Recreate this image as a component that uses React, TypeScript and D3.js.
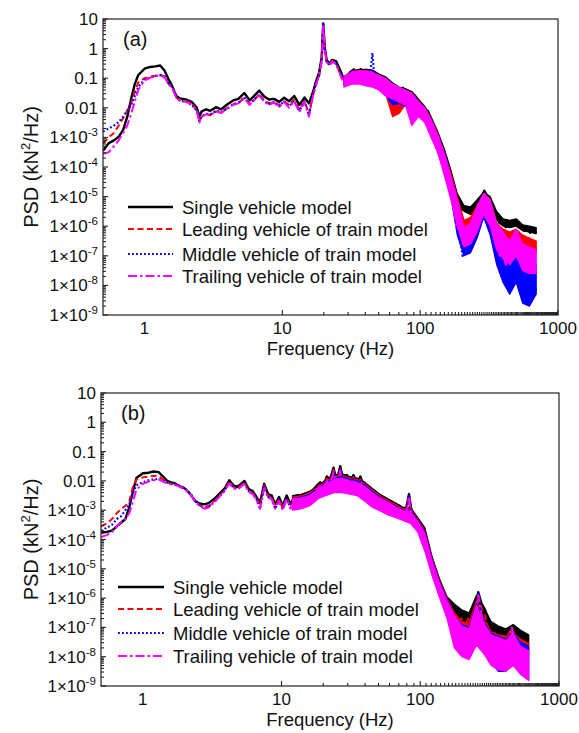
import React from "react";
import * as d3 from "d3";

// ---------- Panel (a) data: frequency (Hz) and log10 PSD (kN^2/Hz) ----------
const freqA = [
  0.5, 0.55, 0.6, 0.65, 0.7, 0.75, 0.8, 0.85, 0.9, 1.0,
  1.1, 1.2, 1.3, 1.4, 1.5, 1.6, 1.7, 1.8, 2.0, 2.2,
  2.4, 2.5, 2.6, 2.8, 3.0, 3.3, 3.6, 4.0, 4.4, 4.8,
  5.3, 5.8, 6.3, 6.8, 7.4, 8.0, 8.7, 9.5, 10.3, 11.2,
  12.2, 13.3, 14.5, 15.6, 16.6, 17.6, 18.5, 19.3, 19.8, 20.3,
  21, 22, 23, 24.5, 26, 27.5, 29, 31, 33, 35,
  37, 39, 41, 43, 45, 47, 49, 52, 55, 58,
  61, 64, 67, 71, 75, 79, 83, 87, 92, 97,
  102, 108, 114, 120, 127, 134, 141, 149, 157, 165,
  174, 183, 193, 203, 214, 225, 237, 250, 263, 277,
  292, 307, 323, 340, 358, 377, 397, 418, 440, 463,
  487, 512, 539, 567, 597, 628, 661, 695,
];
const singleA = [
  -3.45, -3.2, -3.1, -2.98, -2.75, -2.3, -1.7, -1.2, -0.9, -0.68,
  -0.62, -0.6, -0.57, -0.75, -1.05, -1.3, -1.6, -1.68, -1.72, -1.8,
  -2.0, -2.3, -2.12, -2.05, -2.1, -1.98, -2.05, -1.88, -1.75, -1.7,
  -1.5, -1.75, -1.58, -1.42, -1.62, -1.72, -1.7, -1.8, -1.66, -1.78,
  -1.6, -1.9, -1.65, -1.85, -1.5, -1.1, -0.8, -0.3, 0.85, 0.05,
  -0.4, -0.5, -0.38, -0.42, -0.68, -0.95, -1.05, -0.8, -0.7, -0.92,
  -0.7, -0.98, -0.72, -1.02, -0.8, -1.08, -0.95, -1.12, -1.0, -1.3,
  -1.15, -1.42, -1.28, -1.5, -1.32, -1.58, -1.45, -1.72, -1.6, -1.9,
  -1.92, -2.2, -2.1, -2.5, -2.75, -3.05, -3.35, -3.7, -4.05, -4.4,
  -4.7, -5.1, -5.25, -5.4, -5.42, -5.55, -5.5, -5.62, -5.25, -5.05,
  -4.8, -5.0, -5.15, -5.55, -5.62, -5.9, -5.85, -6.03, -5.9, -5.92,
  -5.82, -6.0, -6.0, -6.15, -6.08, -6.22, -6.12, -6.25,
];
const leadingA = [
  -3.2, -3.0, -2.85, -2.6, -2.35, -2.1, -1.85, -1.45, -1.15, -1.0,
  -0.95, -0.92, -0.88, -0.95, -1.2, -1.35, -1.65, -1.75, -1.78, -1.85,
  -2.1, -2.45, -2.3, -2.2, -2.25, -2.12, -2.15, -2.0, -1.88, -1.85,
  -1.65, -1.85, -1.72, -1.55, -1.75, -1.85, -1.82, -1.9, -1.78, -1.9,
  -1.72, -2.05, -1.78, -2.2, -1.6, -1.2, -0.9, -0.4, 0.8, 0.0,
  -0.45, -0.55, -0.45, -0.5, -0.8, -1.1, -1.2, -0.9, -1.0, -0.95,
  -0.8, -1.1, -0.85, -1.15, -0.9, -1.2, -1.05, -1.35, -1.2, -1.6,
  -1.5, -2.3, -1.6, -2.2, -1.5, -1.8, -1.55, -1.85, -1.65, -2.0,
  -2.0, -2.35, -2.2, -2.6, -2.85, -3.2, -3.5, -3.9, -4.3, -4.7,
  -5.0, -5.7, -5.95, -6.15, -5.9, -6.15, -5.75, -5.95, -5.3, -5.25,
  -4.9, -5.1, -5.4, -5.95, -6.1, -6.45, -6.25, -6.5, -6.3, -6.45,
  -6.2, -6.45, -6.5, -6.7, -6.45, -6.8, -6.55, -6.8,
];
const middleA = [
  -2.8, -2.7, -2.6, -2.48, -2.3, -2.1, -1.9, -1.6, -1.3, -1.05,
  -0.98, -0.93, -0.9, -0.95, -1.18, -1.32, -1.62, -1.75, -1.8, -1.9,
  -2.1, -2.45, -2.28, -2.2, -2.22, -2.1, -2.15, -2.02, -1.88, -1.82,
  -1.65, -1.88, -1.7, -1.55, -1.78, -1.88, -1.8, -1.95, -1.78, -1.95,
  -1.75, -2.1, -1.78, -2.25, -1.6, -1.15, -0.9, -0.4, 0.82, 0.0,
  -0.45, -0.55, -0.4, -0.5, -0.78, -1.1, -1.15, -0.85, -1.0, -0.9,
  -0.75, -1.15, -0.85, -1.1, -0.15, -1.2, -1.0, -1.3, -1.15, -1.45,
  -1.3, -1.55, -1.35, -1.65, -1.4, -1.7, -1.5, -1.8, -1.65, -2.0,
  -2.0, -2.4, -2.25, -2.6, -2.9, -3.25, -3.6, -4.0, -4.4, -4.8,
  -5.2, -6.0, -6.3, -7.0, -6.7, -6.95, -6.1, -6.4, -5.4, -5.3,
  -4.9, -5.3, -5.6, -6.4, -6.7, -7.4, -7.4, -8.0, -7.6, -7.7,
  -6.8, -7.4, -7.5, -8.1, -8.3, -8.6, -7.9, -8.2,
];
const trailingA = [
  -3.55, -3.5, -3.3, -3.1, -2.85, -2.6, -2.2, -1.8, -1.4, -1.08,
  -0.98, -0.93, -0.9, -0.98, -1.2, -1.35, -1.65, -1.75, -1.8, -1.88,
  -2.1, -2.5, -2.3, -2.22, -2.25, -2.12, -2.18, -2.02, -1.9, -1.85,
  -1.68, -1.9, -1.72, -1.58, -1.8, -1.9, -1.82, -1.98, -1.8, -2.0,
  -1.78, -2.15, -1.8, -2.3, -1.65, -1.2, -0.92, -0.42, 0.8, -0.02,
  -0.45, -0.58, -0.42, -0.52, -0.8, -1.12, -1.18, -0.88, -1.02, -0.92,
  -0.78, -1.18, -0.88, -1.12, -0.88, -1.22, -1.02, -1.35, -1.18, -1.5,
  -1.32, -1.6, -1.38, -1.7, -1.42, -1.75, -1.55, -2.6, -1.7, -2.0,
  -2.0, -2.4, -2.22, -2.62, -2.9, -3.25, -3.6, -4.0, -4.45, -4.85,
  -5.1, -6.05, -6.1, -6.6, -6.25, -6.6, -5.95, -6.3, -5.25, -5.3,
  -4.88, -5.2, -5.5, -6.25, -6.45, -7.0, -6.9, -7.3, -6.9, -7.1,
  -6.2, -6.95, -7.1, -7.45, -7.3, -7.5, -7.2, -7.4,
];

// Noise-band envelopes (log10 PSD)
const bandFreqA = [
  28, 32, 36, 40, 45, 50, 56, 63, 70, 78, 87, 97, 108, 120, 134,
  150, 167, 186, 208, 232, 259, 289, 322, 359, 400, 446, 497, 554, 620, 695,
];
const singleHiA = [-0.95, -0.75, -0.7, -0.7, -0.72, -0.85, -0.95, -1.15, -1.3, -1.35, -1.45, -1.7, -1.95, -2.3, -2.8, -3.4, -4.1, -4.9, -5.3, -5.35, -5.1, -4.85, -5.0, -5.5, -5.75, -5.8, -5.75, -5.95, -6.0, -6.05];
const singleLoA = [-1.1, -1.0, -1.0, -1.05, -1.1, -1.15, -1.3, -1.5, -1.6, -1.7, -1.8, -2.0, -2.3, -2.6, -3.2, -3.9, -4.6, -5.3, -5.5, -5.6, -5.5, -5.1, -5.4, -5.8, -6.0, -6.05, -6.0, -6.15, -6.2, -6.25];
const leadingHiA = [-0.95, -0.78, -0.75, -0.75, -0.78, -0.9, -1.0, -1.2, -1.35, -1.4, -1.5, -1.75, -2.0, -2.35, -2.85, -3.5, -4.2, -5.0, -5.8, -5.7, -5.3, -4.9, -5.1, -5.9, -6.1, -6.2, -6.1, -6.3, -6.4, -6.5];
const leadingLoA = [-1.2, -1.1, -1.1, -1.15, -1.2, -1.3, -1.5, -2.3, -2.2, -1.9, -1.95, -2.15, -2.4, -2.8, -3.4, -4.1, -4.9, -5.9, -6.2, -6.2, -5.9, -5.4, -5.8, -6.4, -6.5, -6.6, -6.6, -6.8, -6.9, -6.9];
const middleHiA = [-0.95, -0.8, -0.78, -0.78, -0.8, -0.92, -1.02, -1.2, -1.35, -1.42, -1.52, -1.78, -2.02, -2.38, -2.9, -3.5, -4.3, -5.1, -6.3, -6.2, -5.4, -4.9, -5.2, -6.2, -6.9, -7.3, -6.8, -7.3, -7.4, -7.3];
const middleLoA = [-1.25, -1.15, -1.15, -1.2, -1.25, -1.35, -1.55, -1.9, -1.85, -1.95, -2.0, -2.2, -2.45, -2.9, -3.5, -4.2, -5.0, -6.3, -7.0, -6.9, -6.4, -5.7, -6.3, -7.3, -7.9, -8.3, -7.9, -8.6, -8.7, -8.3];
const trailingHiA = [-0.95, -0.78, -0.75, -0.75, -0.8, -0.9, -1.0, -1.2, -1.3, -1.4, -1.5, -1.8, -2.0, -2.4, -2.9, -3.55, -4.3, -5.1, -6.05, -5.9, -5.35, -4.9, -5.1, -5.9, -6.2, -6.5, -6.1, -6.6, -6.7, -6.8];
const trailingLoA = [-1.3, -1.2, -1.2, -1.25, -1.3, -1.4, -1.6, -1.7, -1.8, -1.9, -2.6, -2.3, -2.5, -3.0, -3.5, -4.3, -5.1, -6.0, -6.7, -6.6, -6.2, -5.6, -6.0, -6.8, -7.1, -7.3, -7.0, -7.5, -7.6, -7.6];

// ---------- Panel (b) data ----------
const freqB = [
  0.5, 0.55, 0.6, 0.65, 0.7, 0.75, 0.8, 0.85, 0.9, 1.0,
  1.1, 1.2, 1.3, 1.4, 1.5, 1.6, 1.7, 1.8, 2.0, 2.2,
  2.4, 2.6, 2.8, 3.0, 3.3, 3.6, 3.9, 4.2, 4.5, 4.8,
  5.1, 5.4, 5.8, 6.2, 6.6, 7.0, 7.5, 8.0, 8.5, 9.0,
  9.6, 10.2, 10.9, 11.6, 12.4, 13.2, 14.1, 15, 16, 17,
  18, 19, 20, 21.2, 22.4, 23.7, 25, 26.5, 28, 29.6,
  31.3, 33, 35, 37, 39, 41, 43, 45.5, 48, 51,
  54, 57, 60, 63.5, 67, 71, 75, 79, 83, 87,
  91, 96, 101, 107, 113, 119, 126, 133, 141, 149,
  158, 167, 177, 187, 198, 210, 222, 235, 249, 262,
  277, 293, 310, 328, 347, 367, 388, 410, 433, 458,
  484, 512, 541, 572, 605,
];
const singleB = [
  -3.77, -3.74, -3.7, -3.55, -3.42, -3.3, -2.9, -2.35, -1.9, -1.74,
  -1.72, -1.68, -1.7, -1.85, -2.0, -2.05, -2.08, -2.15, -2.25, -2.45,
  -2.7, -2.78, -2.8, -2.75, -2.6, -2.42, -2.25, -1.98, -2.15, -2.2,
  -2.1, -2.0, -2.28, -2.35, -2.55, -2.75, -2.1, -2.45, -2.5, -2.8,
  -2.55, -2.85, -2.5, -2.8, -2.55, -2.75, -2.5, -2.6, -2.45, -2.3,
  -2.15, -2.05, -2.2, -1.85, -1.95, -1.55, -2.0, -1.5, -2.0, -1.8,
  -2.05, -1.8, -2.1, -1.85, -2.15, -2.3, -2.45, -2.4, -2.65, -2.6,
  -2.8, -2.7, -2.85, -2.8, -2.95, -2.85, -3.0, -2.95, -2.45, -3.1,
  -3.3, -3.45, -3.5, -3.75, -4.2, -4.55, -4.95, -5.3, -5.65, -5.9,
  -6.05, -6.35, -6.3, -6.65, -6.5, -6.85, -6.55, -6.75, -6.4, -5.8,
  -6.2, -6.4, -6.85, -7.15, -7.0, -7.3, -7.1, -7.3, -7.05, -6.95,
  -7.1, -7.35, -7.25, -7.45, -7.35,
];
const leadingB = [
  -3.55, -3.45, -3.3, -3.1, -2.95, -2.85, -2.7, -2.2, -1.95, -1.88,
  -1.85, -1.83, -1.82, -1.95, -2.05, -2.1, -2.12, -2.15, -2.25, -2.45,
  -2.72, -2.85, -2.9, -2.85, -2.68, -2.48, -2.3, -2.02, -2.2, -2.25,
  -2.15, -2.05, -2.33, -2.4, -2.6, -2.85, -2.15, -2.52, -2.55, -2.88,
  -2.62, -2.92, -2.58, -2.88, -2.62, -2.85, -2.58, -2.7, -2.52, -2.4,
  -2.22, -2.12, -2.3, -1.92, -2.05, -1.62, -2.1, -1.58, -2.1, -1.88,
  -2.12, -1.88, -2.2, -1.95, -2.25, -2.4, -2.55, -2.5, -2.75, -2.7,
  -2.9, -2.8, -2.95, -2.9, -3.05, -2.95, -3.1, -3.05, -2.5, -3.2,
  -3.4, -3.55, -3.6, -3.85, -4.3, -4.65, -5.05, -5.4, -5.75, -6.0,
  -6.2, -6.55, -6.5, -6.85, -6.7, -7.0, -6.7, -6.95, -6.55, -5.85,
  -6.35, -6.6, -7.05, -7.35, -7.2, -7.55, -7.3, -7.55, -7.2, -7.05,
  -7.3, -7.6, -7.45, -7.7, -7.6,
];
const middleB = [
  -3.7, -3.6, -3.5, -3.3, -3.2, -3.0, -2.8, -2.4, -2.15, -2.05,
  -1.98, -1.95, -1.93, -2.0, -2.05, -2.1, -2.12, -2.15, -2.25, -2.42,
  -2.7, -2.85, -2.92, -2.88, -2.7, -2.5, -2.32, -2.05, -2.22, -2.28,
  -2.18, -2.08, -2.35, -2.42, -2.62, -2.95, -2.2, -2.55, -2.6, -2.95,
  -2.65, -2.98, -2.6, -2.92, -2.65, -2.9, -2.6, -2.75, -2.55, -2.45,
  -2.25, -2.15, -2.35, -1.95, -2.1, -1.65, -2.15, -1.6, -2.15, -1.9,
  -2.15, -1.9, -2.25, -2.0, -2.3, -2.45, -2.6, -2.55, -2.8, -2.75,
  -2.95, -2.85, -3.0, -2.95, -3.1, -3.0, -3.15, -3.1, -2.48, -3.25,
  -3.45, -3.6, -3.65, -3.9, -4.35, -4.7, -5.1, -5.45, -5.8, -6.1,
  -6.35, -6.9, -6.8, -7.3, -7.05, -7.4, -7.05, -7.3, -6.8, -5.85,
  -6.5, -6.9, -7.4, -7.9, -7.6, -8.1, -7.8, -8.2, -7.7, -7.1,
  -7.7, -8.2, -7.9, -8.4, -8.1,
];
const trailingB = [
  -3.92, -3.85, -3.75, -3.55, -3.4, -3.3, -3.1, -2.7, -2.3, -2.1,
  -2.02, -1.98, -1.95, -2.02, -2.08, -2.12, -2.14, -2.18, -2.28, -2.45,
  -2.72, -2.88, -2.95, -2.9, -2.72, -2.52, -2.35, -2.08, -2.25, -2.3,
  -2.2, -2.1, -2.38, -2.45, -2.65, -2.95, -2.25, -2.58, -2.62, -2.95,
  -2.68, -3.0, -2.62, -2.95, -2.68, -2.92, -2.62, -2.8, -2.58, -2.48,
  -2.28, -2.18, -2.38, -2.0, -2.15, -1.7, -2.2, -1.65, -2.2, -1.95,
  -2.2, -1.95, -2.3, -2.05, -2.35, -2.5, -2.65, -2.6, -2.85, -2.8,
  -3.0, -2.9, -3.05, -3.0, -3.15, -3.05, -3.2, -3.15, -2.55, -3.3,
  -3.5, -3.65, -3.7, -3.95, -4.4, -4.75, -5.15, -5.5, -5.85, -6.15,
  -6.4, -7.1, -6.9, -7.6, -7.2, -7.8, -7.25, -7.7, -7.0, -5.9,
  -6.6, -7.0, -7.6, -8.0, -7.65, -8.2, -7.8, -8.3, -7.6, -7.0,
  -7.8, -8.4, -8.0, -8.6, -8.3,
];

// Noise-band envelopes (log10 PSD)
const bandFreqB = [
  12, 14, 16, 18.5, 21, 24, 27, 31, 35, 40, 45, 51, 58, 66, 75, 85,
  96, 108, 122, 138, 156, 176, 199, 225, 254, 287, 324, 366, 414, 468, 529, 605,
];
const singleHiB = [-2.5, -2.45, -2.35, -2.15, -1.95, -1.8, -1.75, -1.85, -1.9, -2.05, -2.25, -2.45, -2.6, -2.75, -2.9, -2.9, -3.25, -3.6, -4.6, -5.35, -5.95, -6.2, -6.4, -6.5, -5.9, -6.3, -6.8, -6.95, -7.05, -6.9, -7.1, -7.25];
const singleLoB = [-2.75, -2.7, -2.6, -2.4, -2.25, -2.1, -2.1, -2.2, -2.25, -2.45, -2.65, -2.8, -2.95, -3.05, -3.15, -3.25, -3.55, -4.2, -5.0, -5.75, -6.3, -6.6, -6.85, -6.9, -6.6, -6.8, -7.2, -7.3, -7.35, -7.3, -7.45, -7.6];
const leadingHiB = [-2.55, -2.5, -2.4, -2.2, -2.0, -1.85, -1.8, -1.9, -1.95, -2.1, -2.3, -2.5, -2.65, -2.8, -2.95, -2.95, -3.3, -3.7, -4.65, -5.4, -6.0, -6.5, -6.8, -6.85, -6.1, -6.7, -7.15, -7.25, -7.3, -7.2, -7.4, -7.55];
const leadingLoB = [-2.85, -2.8, -2.7, -2.5, -2.35, -2.2, -2.2, -2.3, -2.35, -2.55, -2.75, -2.9, -3.05, -3.15, -3.25, -3.35, -3.65, -4.3, -5.1, -5.85, -6.45, -6.9, -7.1, -7.2, -6.9, -7.1, -7.5, -7.6, -7.65, -7.5, -7.8, -7.9];
const middleHiB = [-2.6, -2.55, -2.45, -2.25, -2.05, -1.9, -1.85, -1.95, -2.0, -2.15, -2.35, -2.55, -2.7, -2.85, -3.0, -3.0, -3.35, -3.75, -4.7, -5.45, -6.05, -6.6, -6.9, -7.0, -6.2, -6.8, -7.2, -7.3, -7.4, -7.2, -7.5, -7.65];
const middleLoB = [-2.9, -2.85, -2.75, -2.55, -2.4, -2.3, -2.3, -2.35, -2.4, -2.6, -2.8, -2.95, -3.1, -3.2, -3.3, -3.4, -3.7, -4.35, -5.2, -5.95, -6.6, -7.5, -7.9, -8.0, -7.4, -7.7, -8.2, -8.5, -8.5, -8.2, -8.6, -8.8];
const trailingHiB = [-2.62, -2.58, -2.5, -2.28, -2.1, -1.95, -1.9, -2.0, -2.05, -2.2, -2.4, -2.58, -2.72, -2.88, -3.02, -3.05, -3.38, -3.8, -4.75, -5.5, -6.1, -6.6, -6.95, -7.05, -6.25, -6.85, -7.25, -7.35, -7.45, -7.2, -7.65, -7.8];
const trailingLoB = [-3.0, -2.95, -2.85, -2.6, -2.5, -2.4, -2.4, -2.45, -2.5, -2.7, -2.9, -3.02, -3.15, -3.25, -3.35, -3.45, -3.75, -4.4, -5.25, -6.0, -6.7, -7.7, -8.0, -8.1, -7.6, -7.9, -8.3, -8.45, -8.5, -8.3, -8.6, -8.8];

// ---------- Labels / ticks / styles ----------
const seriesNames = [
  "Single vehicle model",
  "Leading vehicle of train model",
  "Middle vehicle of train model",
  "Trailing vehicle of train model",
];
const seriesColors = ["#000000", "#ff0000", "#0000ff", "#ff00ff"];
const seriesDash = ["", "6,3.5", "1.8,2.2", "9,3,2.5,3"];
const seriesWidth = [2.4, 2, 2.2, 2];
const yTickExponents = [1, 0, -1, -2, -3, -4, -5, -6, -7, -8, -9];
const xMajorTicks = [1, 10, 100, 1000];
const xLabel = "Frequency (Hz)";

const FONT = 'Arial, "Liberation Sans", Helvetica, sans-serif';

type Box = { left: number; right: number; top: number; bottom: number };
type Legend = { x1: number; x2: number; tx: number; rows: number[] };
type Band = { freqs: number[]; hi: number[][]; lo: number[][] };

function yTickLabel(e: number) {
  if (e === 1) return <>10</>;
  if (e === 0) return <>1</>;
  if (e === -1) return <>0.1</>;
  if (e === -2) return <>0.01</>;
  return (
    <>
      1×10<tspan dy={-7} fontSize={11.5}>{"-" + Math.abs(e)}</tspan>
    </>
  );
}

function Panel({
  box,
  freqs,
  series,
  band,
  tag,
  legend,
  id,
}: {
  box: Box;
  freqs: number[];
  series: number[][];
  band: Band;
  tag: string;
  legend: Legend;
  id: string;
}) {
  const x = d3.scaleLog().domain([0.5, 1000]).range([box.left, box.right]);
  const y = d3.scaleLog().domain([1e-9, 10]).range([box.bottom, box.top]);
  const line = d3
    .line<[number, number]>()
    .x((d) => x(d[0]))
    .y((d) => y(Math.pow(10, d[1])));
  const area = d3
    .area<[number, number, number]>()
    .x((d) => x(d[0]))
    .y0((d) => y(Math.pow(10, d[2])))
    .y1((d) => y(Math.pow(10, d[1])))
    .curve(d3.curveLinear);
  const xMinor = x.ticks(100).filter((t) => t >= 0.5 && t <= 1000);
  const yMinor = y.ticks(100);
  const majorSet = new Set(xMajorTicks);
  const midY = (box.top + box.bottom) / 2;
  const midX = (box.left + box.right) / 2;

  return (
    <g fontFamily={FONT}>
      <defs>
        <clipPath id={`clip-${id}`}>
          <rect x={box.left} y={box.top} width={box.right - box.left} height={box.bottom - box.top} />
        </clipPath>
      </defs>
      <g clipPath={`url(#clip-${id})`}>
        {series.map((vals, i) => {
          const pts: [number, number][] = freqs.map((f, k) => [f, vals[k]]);
          const bpts: [number, number, number][] = band.freqs.map((f, k) => [
            f,
            band.hi[i][k],
            band.lo[i][k],
          ]);
          return (
            <g key={i}>
              <path
                d={area(bpts) || ""}
                fill={seriesColors[i]}
                stroke={seriesColors[i]}
                strokeWidth={1.2}
                strokeLinejoin="round"
              />
              <path
                d={line(pts) || ""}
                fill="none"
                stroke={seriesColors[i]}
                strokeWidth={seriesWidth[i]}
                strokeDasharray={seriesDash[i] || undefined}
                strokeLinejoin="round"
              />
            </g>
          );
        })}
      </g>
      {/* frame */}
      <rect
        x={box.left}
        y={box.top}
        width={box.right - box.left}
        height={box.bottom - box.top}
        fill="none"
        stroke="#333"
        strokeWidth={1.3}
      />
      {/* x ticks */}
      {xMinor.map((t, i) => {
        const major = majorSet.has(Math.round(t * 1000) / 1000);
        return (
          <line
            key={"xt" + i}
            x1={x(t)}
            x2={x(t)}
            y1={box.bottom}
            y2={box.bottom - (major ? 5 : 3)}
            stroke="#222"
            strokeWidth={1.1}
          />
        );
      })}
      {xMajorTicks.map((t) => (
        <text key={"xl" + t} x={x(t)} y={box.bottom + 19} textAnchor="middle" fontSize={17} fill="#111">
          {t}
        </text>
      ))}
      <text x={midX} y={box.bottom + 40} textAnchor="middle" fontSize={18.5} fill="#111">
        {xLabel}
      </text>
      {/* y ticks */}
      {yMinor.map((t, i) => {
        const e = Math.log10(t);
        const major = Math.abs(e - Math.round(e)) < 1e-6;
        return (
          <line
            key={"yt" + i}
            x1={box.left}
            x2={box.left + (major ? 5 : 3)}
            y1={y(t)}
            y2={y(t)}
            stroke="#222"
            strokeWidth={1.1}
          />
        );
      })}
      {yTickExponents.map((e) => (
        <text key={"yl" + e} x={box.left - 5} y={y(Math.pow(10, e)) + 6} textAnchor="end" fontSize={17} fill="#111">
          {yTickLabel(e)}
        </text>
      ))}
      <text
        transform={`translate(${38},${midY}) rotate(-90)`}
        textAnchor="middle"
        fontSize={20}
        fill="#111"
      >
        PSD (kN<tspan dy={-8} fontSize={13}>2</tspan>
        <tspan dy={8}>/Hz)</tspan>
      </text>
      {/* panel tag */}
      <text x={box.left + 20} y={box.top + 27} fontSize={20} fill="#111">
        {tag}
      </text>
      {/* legend */}
      {seriesNames.map((name, i) => (
        <g key={"lg" + i}>
          <line
            x1={legend.x1}
            x2={legend.x2}
            y1={legend.rows[i]}
            y2={legend.rows[i]}
            stroke={seriesColors[i]}
            strokeWidth={seriesWidth[i]}
            strokeDasharray={seriesDash[i] || undefined}
          />
          <text x={legend.tx} y={legend.rows[i] + 6.5} fontSize={18.5} fill="#111">
            {name}
          </text>
        </g>
      ))}
    </g>
  );
}

export default function App() {
  return (
    <svg
      width={579}
      height={733}
      viewBox="0 0 579 733"
      style={{ position: "absolute", left: 0, top: 0, background: "#fff" }}
    >
      <rect x={0} y={0} width={579} height={733} fill="#fff" />
      <Panel
        id="a"
        box={{ left: 103, right: 558, top: 19, bottom: 315 }}
        freqs={freqA}
        series={[singleA, leadingA, middleA, trailingA]}
        band={{
          freqs: bandFreqA,
          hi: [singleHiA, leadingHiA, middleHiA, trailingHiA],
          lo: [singleLoA, leadingLoA, middleLoA, trailingLoA],
        }}
        tag="(a)"
        legend={{ x1: 128, x2: 173, tx: 182, rows: [207, 229, 254, 276] }}
      />
      <Panel
        id="b"
        box={{ left: 101, right: 559, top: 393, bottom: 686 }}
        freqs={freqB}
        series={[singleB, leadingB, middleB, trailingB]}
        band={{
          freqs: bandFreqB,
          hi: [singleHiB, leadingHiB, middleHiB, trailingHiB],
          lo: [singleLoB, leadingLoB, middleLoB, trailingLoB],
        }}
        tag="(b)"
        legend={{ x1: 118, x2: 164, tx: 173, rows: [587, 609, 633, 656] }}
      />
    </svg>
  );
}
